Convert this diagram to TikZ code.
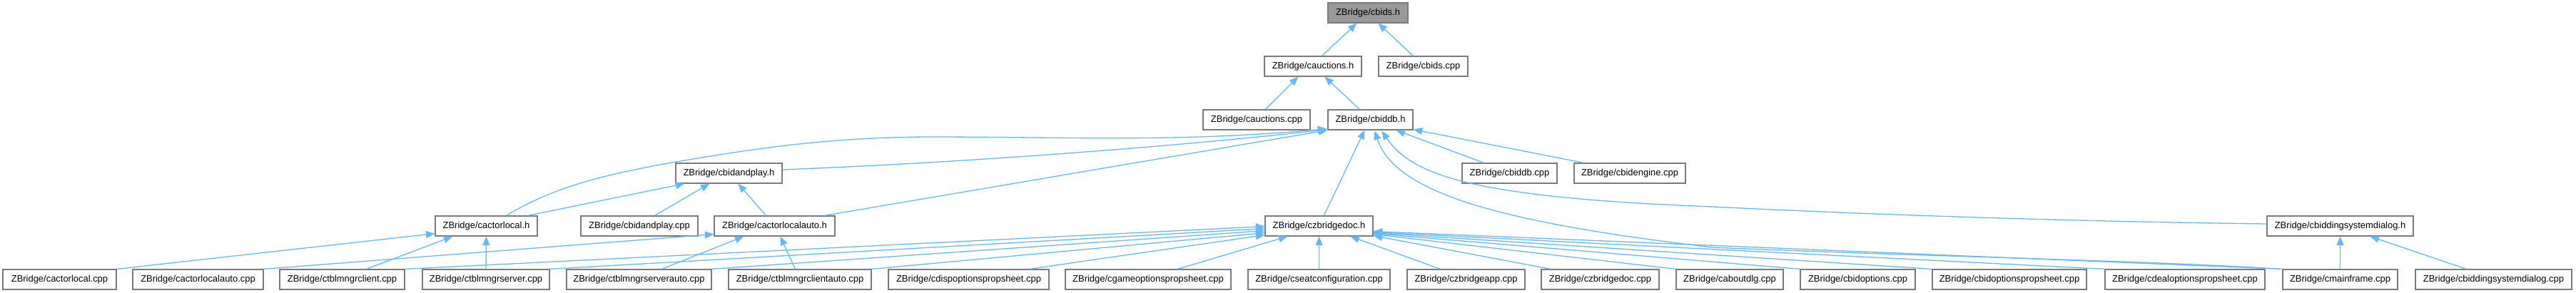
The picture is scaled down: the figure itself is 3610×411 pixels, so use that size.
\documentclass[tikz,border=0pt]{standalone}
\usepackage{fontspec}
\setmainfont{Liberation Sans}
\usetikzlibrary{arrows.meta,calc}
\definecolor{edgec}{HTML}{63B8FF}
\definecolor{boxc}{HTML}{7A7A7A}
\definecolor{grayfill}{HTML}{999999}
\tikzset{
  filebox/.style={draw=boxc, line width=0.024cm, minimum height=0.56cm, inner sep=0pt,
    font=\fontsize{7.37pt}{9pt}\selectfont, text=black},
  conn/.style={draw=edgec, line width=0.026cm, -{Triangle[length=0.25cm,width=0.2cm,fill=edgec]}}
}
% \dbox[fill]{name}{left}{right}{top}{text}
\newcommand{\dbox}[6][white]{\node[filebox, fill=#1, minimum width={(#4-#3)*0.02cm}] (#2) at ({(#3+#4)/2},{#5+14}) {#6};}
\begin{document}
\begin{tikzpicture}[x=0.02cm,y=-0.02cm]
\useasboundingbox (0,0) rectangle (3610,411);
% rows
\dbox[grayfill]{cbidsh}{1861}{1973}{4}{ZBridge/cbids.h}
\dbox{cauctionsh}{1772}{1908}{79}{ZBridge/cauctions.h}
\dbox{cbidscpp}{1932}{2057}{79}{ZBridge/cbids.cpp}
\dbox{cauctionscpp}{1686}{1836}{154}{ZBridge/cauctions.cpp}
\dbox{cbiddbh}{1861}{1980}{154}{ZBridge/cbiddb.h}
\dbox{cbidandplayh}{947}{1096}{229}{ZBridge/cbidandplay.h}
\dbox{cbiddbcpp}{2049}{2182}{229}{ZBridge/cbiddb.cpp}
\dbox{cbidenginecpp}{2206}{2362}{229}{ZBridge/cbidengine.cpp}
\dbox{cactorlocalh}{610}{753}{303}{ZBridge/cactorlocal.h}
\dbox{cbidandplaycpp}{814}{978}{303}{ZBridge/cbidandplay.cpp}
\dbox{cactorlocalautoh}{1001}{1170}{303}{ZBridge/cactorlocalauto.h}
\dbox{czbridgedoch}{1773}{1924}{303}{ZBridge/czbridgedoc.h}
\dbox{cbsdh}{3177}{3382}{303}{ZBridge/cbiddingsystemdialog.h}
% bottom row
\dbox{cactorlocalcpp}{4}{163}{378}{ZBridge/cactorlocal.cpp}
\dbox{cactorlocalautocpp}{186}{369}{378}{ZBridge/cactorlocalauto.cpp}
\dbox{clientcpp}{392}{567}{378}{ZBridge/ctblmngrclient.cpp}
\dbox{servercpp}{592}{770}{378}{ZBridge/ctblmngrserver.cpp}
\dbox{serverautocpp}{794}{997}{378}{ZBridge/ctblmngrserverauto.cpp}
\dbox{clientautocpp}{1021}{1221}{378}{ZBridge/ctblmngrclientauto.cpp}
\dbox{dispcpp}{1245}{1470}{378}{ZBridge/cdispoptionspropsheet.cpp}
\dbox{gamecpp}{1493}{1725}{378}{ZBridge/cgameoptionspropsheet.cpp}
\dbox{seatcpp}{1749}{1948}{378}{ZBridge/cseatconfiguration.cpp}
\dbox{appcpp}{1972}{2137}{378}{ZBridge/czbridgeapp.cpp}
\dbox{doccpp}{2160}{2325}{378}{ZBridge/czbridgedoc.cpp}
\dbox{aboutcpp}{2349}{2499}{378}{ZBridge/caboutdlg.cpp}
\dbox{bidoptcpp}{2523}{2684}{378}{ZBridge/cbidoptions.cpp}
\dbox{bidoptpscpp}{2708}{2924}{378}{ZBridge/cbidoptionspropsheet.cpp}
\dbox{dealcpp}{2950}{3174}{378}{ZBridge/cdealoptionspropsheet.cpp}
\dbox{mainframecpp}{3199}{3360}{378}{ZBridge/cmainframe.cpp}
\dbox{bsdcpp}{3385}{3604}{378}{ZBridge/cbiddingsystemdialog.cpp}
% top edges
\draw[conn] ($(cauctionsh.north west)+(81,0)$) -- ($(cbidsh.south west)+(41,0)$);
\draw[conn] ($(cbidscpp.north west)+(49,0)$) -- ($(cbidsh.south west)+(71,0)$);
\draw[conn] ($(cauctionscpp.north west)+(88,0)$) -- ($(cauctionsh.south west)+(48,0)$);
\draw[conn] ($(cbiddbh.north west)+(45,0)$) -- ($(cauctionsh.south west)+(85,0)$);
% into cbiddb.h
\draw[conn] ($(cbiddbcpp.north west)+(31,0)$) -- ($(cbiddbh.south west)+(96,0)$);
\draw[conn] ($(cbidenginecpp.north west)+(14,0)$) -- ($(cbiddbh.south east)+(0,-1)$);
\draw[conn] ($(czbridgedoch.north west)+(83,0)$) -- ($(cbiddbh.south west)+(52,0)$);
\draw[conn] (mainframecpp.north west) .. controls (3000,365) and (2700,360) .. (2400,347)
  .. controls (2100,312) and (1955,270) .. ($(cbiddbh.south west)+(66,1)$);
\draw[conn] ($(cbsdh.west)+(0,-3)$) .. controls (3000,312) and (2700,305) .. (2400,290)
  .. controls (2060,277) and (1978,245) .. ($(cbiddbh.south west)+(76,1)$);
\draw[conn] ($(cactorlocalh.north west)+(100,0)$) .. controls (780,260) and (850,245) .. (941,228)
  .. controls (1050,210) and (1150,193) .. (1300,192)
  .. controls (1500,192) and (1650,200) .. ($(cbiddbh.south west)+(-1,-2)$);
\draw[conn] ($(cbidandplayh.east)+(0,-5)$) .. controls (1400,226) and (1700,200) .. ($(cbiddbh.south west)+(-1,-1)$);
\draw[conn] ($(cactorlocalautoh.north west)+(155,0)$) -- (cbiddbh.south west);
% into cbidandplay.h
\draw[conn] ($(cactorlocalh.north west)+(130,0)$) -- ($(cbidandplayh.south west)+(13,0)$);
\draw[conn] ($(cbidandplaycpp.north west)+(104,0)$) -- ($(cbidandplayh.south west)+(48,0)$);
\draw[conn] ($(cactorlocalautoh.north west)+(73,0)$) -- ($(cbidandplayh.south west)+(88,0)$);
% into cactorlocal.h
\draw[conn] (cactorlocalcpp.north east) -- ($(cactorlocalh.south west)+(0,-4)$);
\draw[conn] ($(clientcpp.north west)+(122,0)$) -- ($(cactorlocalh.south west)+(25,0)$);
\draw[conn] (servercpp.north) -- (cactorlocalh.south);
% into cactorlocalauto.h
\draw[conn] (cactorlocalautocpp.north east) -- ($(cactorlocalautoh.south west)+(0,-3)$);
\draw[conn] ($(serverautocpp.north west)+(134,0)$) -- ($(cactorlocalautoh.south west)+(42,0)$);
\draw[conn] ($(clientautocpp.north west)+(94,0)$) -- ($(cactorlocalautoh.south west)+(93,0)$);
% into czbridgedoc.h
\draw[conn] (clientcpp.north east) -- ($(czbridgedoch.south west)+(0,-14)$);
\draw[conn] (servercpp.north east) -- ($(czbridgedoch.south west)+(0,-11)$);
\draw[conn] (serverautocpp.north east) -- ($(czbridgedoch.south west)+(0,-8)$);
\draw[conn] (clientautocpp.north east) -- ($(czbridgedoch.south west)+(0,-5)$);
\draw[conn] ($(dispcpp.north west)+(198,0)$) -- ($(czbridgedoch.south west)+(0,-2)$);
\draw[conn] ($(gamecpp.north west)+(158,0)$) -- ($(czbridgedoch.south west)+(32,0)$);
\draw[conn] (seatcpp.north) -- (czbridgedoch.south);
\draw[conn] ($(appcpp.north west)+(47,0)$) -- ($(czbridgedoch.south west)+(120,0)$);
\draw[conn] ($(doccpp.north west)+(14,0)$) -- ($(czbridgedoch.south east)+(0,-1)$);
\draw[conn] (aboutcpp.north west) -- ($(czbridgedoch.south east)+(0,-3)$);
\draw[conn] (bidoptcpp.north west) -- ($(czbridgedoch.south east)+(0,-4)$);
\draw[conn] (bidoptpscpp.north west) -- ($(czbridgedoch.south east)+(0,-5)$);
\draw[conn] (dealcpp.north west) -- ($(czbridgedoch.south east)+(0,-6)$);
\draw[conn] (mainframecpp.north west) -- ($(czbridgedoch.south east)+(0,-7)$);
% into cbiddingsystemdialog.h
\draw[conn] (mainframecpp.north) -- (cbsdh.south);
\draw[conn] ($(bsdcpp.north west)+(72,0)$) -- ($(cbsdh.south west)+(145,0)$);
\end{tikzpicture}
\end{document}
